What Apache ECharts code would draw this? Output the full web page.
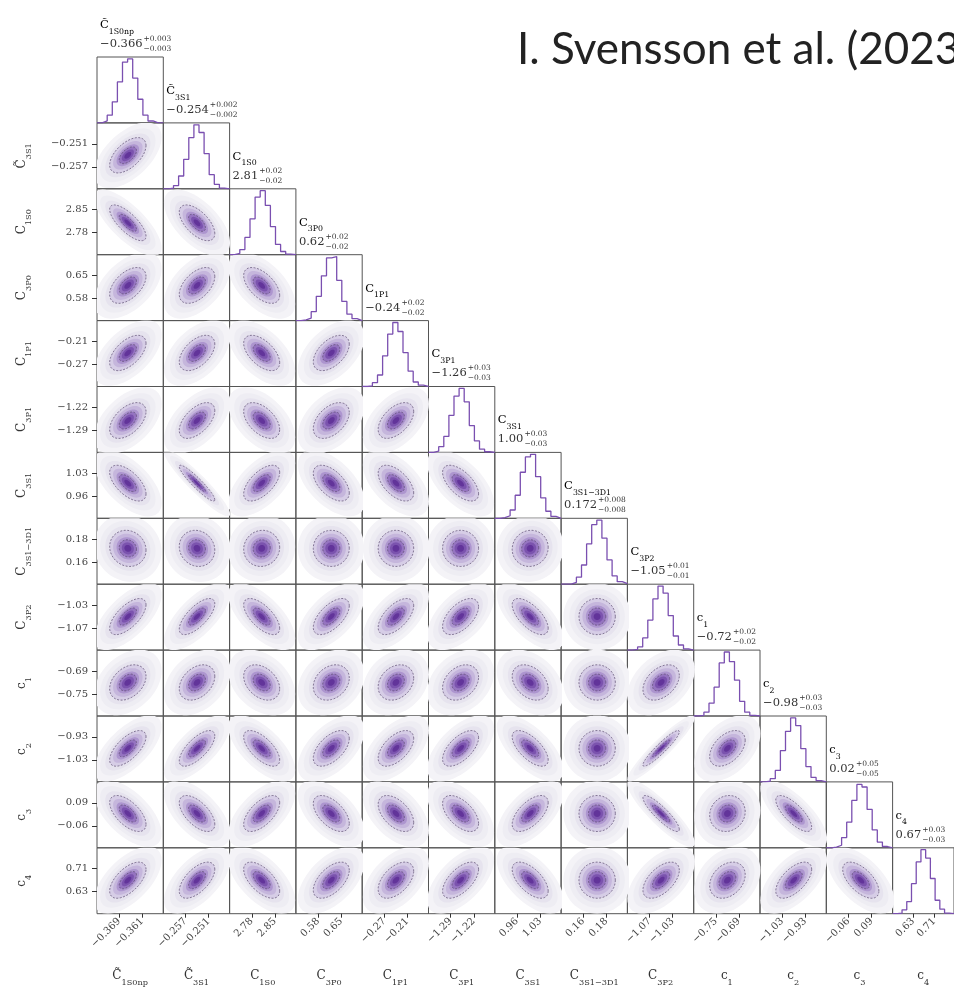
<!DOCTYPE html>
<html>
<head>
<meta charset="utf-8">
<script src="https://cdn.jsdelivr.net/npm/echarts@6/dist/echarts.min.js"></script>
<style>
  html, body { margin: 0; padding: 0; background: #fff; }
  #main { width: 954px; height: 995px; }
</style>
</head>
<body>
<div id="main"></div>
<script>
// parameter symbols and subscripts
const paramSym = ['C\u0303', 'C\u0303', 'C', 'C', 'C', 'C', 'C', 'C', 'C', 'c', 'c', 'c', 'c'];
const paramSub = ['1S0np', '3S1', '1S0', '3P0', '1P1', '3P1', '3S1', '3S1\u22123D1', '3P2', '1', '2', '3', '4'];

// medians and 1-sigma widths (titles over the diagonal)
const medians = [-0.366, -0.254, 2.81, 0.62, -0.24, -1.26, 1.00, 0.172, -1.05, -0.72, -0.98, 0.02, 0.67];
const sigmas  = [0.003, 0.0022, 0.026, 0.026, 0.022, 0.026, 0.026, 0.0075, 0.015, 0.022, 0.037, 0.056, 0.030];
const medianText = ['\u22120.366', '\u22120.254', '2.81', '0.62', '\u22120.24', '\u22121.26', '1.00', '0.172', '\u22121.05', '\u22120.72', '\u22120.98', '0.02', '0.67'];
const errText = ['0.003', '0.002', '0.02', '0.02', '0.02', '0.03', '0.03', '0.008', '0.01', '0.02', '0.03', '0.05', '0.03'];

// tick values and labels
const ticks = [
  [-0.369, -0.361], [-0.257, -0.251], [2.78, 2.85], [0.58, 0.65], [-0.27, -0.21],
  [-1.29, -1.22], [0.96, 1.03], [0.16, 0.18], [-1.07, -1.03], [-0.75, -0.69],
  [-1.03, -0.93], [-0.06, 0.09], [0.63, 0.71]
];
const tickText = [
  ['\u22120.369', '\u22120.361'], ['\u22120.257', '\u22120.251'], ['2.78', '2.85'], ['0.58', '0.65'],
  ['\u22120.27', '\u22120.21'], ['\u22121.29', '\u22121.22'], ['0.96', '1.03'], ['0.16', '0.18'],
  ['\u22121.07', '\u22121.03'], ['\u22120.75', '\u22120.69'], ['\u22121.03', '\u22120.93'],
  ['\u22120.06', '0.09'], ['0.63', '0.71']
];

// marginal histograms, 13 bins over each axis range (normalised)
const hists = [
  [0, 0.03, 0.12, 0.33, 0.64, 0.95, 1.0, 0.70, 0.37, 0.12, 0.03, 0, 0],
  [0, 0.01, 0.05, 0.20, 0.46, 0.80, 1.0, 0.88, 0.55, 0.22, 0.07, 0.01, 0],
  [0, 0.02, 0.08, 0.27, 0.56, 0.90, 1.0, 0.77, 0.44, 0.16, 0.05, 0.01, 0],
  [0, 0.01, 0.04, 0.14, 0.38, 0.70, 0.98, 1.0, 0.63, 0.30, 0.10, 0.03, 0],
  [0, 0.01, 0.06, 0.18, 0.48, 0.82, 1.0, 0.86, 0.53, 0.24, 0.07, 0.02, 0],
  [0, 0.02, 0.09, 0.25, 0.58, 0.88, 1.0, 0.79, 0.42, 0.18, 0.05, 0.01, 0],
  [0, 0.01, 0.04, 0.13, 0.36, 0.72, 0.96, 1.0, 0.65, 0.32, 0.11, 0.03, 0],
  [0, 0, 0.03, 0.11, 0.30, 0.63, 0.93, 1.0, 0.72, 0.38, 0.13, 0.04, 0.01],
  [0, 0.01, 0.05, 0.19, 0.47, 0.80, 1.0, 0.89, 0.54, 0.22, 0.08, 0.02, 0],
  [0, 0.01, 0.06, 0.20, 0.45, 0.83, 1.0, 0.85, 0.56, 0.23, 0.06, 0.01, 0],
  [0, 0.01, 0.05, 0.18, 0.49, 0.79, 1.0, 0.88, 0.52, 0.24, 0.07, 0.02, 0],
  [0, 0.01, 0.04, 0.16, 0.40, 0.74, 0.99, 0.95, 0.60, 0.28, 0.09, 0.02, 0],
  [0, 0.01, 0.06, 0.19, 0.47, 0.81, 1.0, 0.87, 0.55, 0.21, 0.07, 0.01, 0]
];

// pairwise correlations, lower triangle (row i, columns 0..i-1)
const corr = [
  [],
  [0.55],
  [-0.75, -0.6],
  [0.5, 0.5, -0.55],
  [0.55, 0.5, -0.55, 0.5],
  [0.5, 0.55, -0.5, 0.45, 0.5],
  [-0.6, -0.93, 0.6, -0.55, -0.55, -0.6],
  [-0.1, -0.1, 0.05, 0.0, 0.0, 0.0, 0.05],
  [0.65, 0.7, -0.65, 0.6, 0.6, 0.55, -0.65, 0.0],
  [0.35, 0.35, -0.35, 0.25, 0.25, 0.3, -0.35, 0.0, 0.4],
  [0.65, 0.7, -0.65, 0.55, 0.55, 0.6, -0.65, 0.0, 0.93, 0.45],
  [-0.6, -0.6, 0.6, -0.55, -0.5, -0.55, 0.6, 0.0, -0.88, 0.1, -0.75],
  [0.6, 0.6, -0.6, 0.55, 0.5, 0.6, -0.6, 0.0, 0.55, 0.3, 0.6, -0.6]
];

const N = 13;
const X0 = 97, CW = 66.3, Y0 = 57, CH = 65.9;
const SERIF = 'DejaVu Serif';
const NBINS = 13;

// density shading, outer to inner (Mahalanobis radius)
const levels = [
  { k: 3.9, fill: '#f4f3f7' },
  { k: 3.2, fill: '#eeedf3' },
  { k: 2.6, fill: '#e6e3ee' },
  { k: 2.1, fill: '#d6cde6', dash: true },
  { k: 1.7, fill: '#c5b6dc' },
  { k: 1.3, fill: '#ad95cf' },
  { k: 1.0, fill: '#9574c0', dash: true },
  { k: 0.7, fill: '#7b53ae' },
  { k: 0.4, fill: '#62349a' }
];

function axisRange(k) {
  const d = ticks[k][1] - ticks[k][0];
  return [ticks[k][0] - 0.96 * d, ticks[k][1] + 0.91 * d];
}

function richName(k) {
  return '{m|' + paramSym[k] + '}{s|' + paramSub[k] + '}';
}
function richStyle(size) {
  return {
    m: { fontSize: size, fontFamily: SERIF, color: '#333', lineHeight: size + 3, verticalAlign: 'top' },
    s: { fontSize: size * 0.68, fontFamily: SERIF, color: '#333', lineHeight: size * 0.7,
         padding: [size * 0.75, 0, 0, 0], verticalAlign: 'top' }
  };
}

function tickFormatter(k) {
  return function (v) {
    const i = Math.abs(v - ticks[k][0]) < Math.abs(v - ticks[k][1]) ? 0 : 1;
    return tickText[k][i];
  };
}

function renderBlob(params, api) {
  const mx = api.value(0), my = api.value(1), sx = api.value(2), sy = api.value(3), r = api.value(4);
  const q = Math.sqrt(1 - r * r);
  const children = levels.map(function (L) {
    const pts = [];
    for (let s = 0; s < 60; s++) {
      const t = s / 60 * 2 * Math.PI;
      const c = Math.cos(t), sn = Math.sin(t);
      pts.push(api.coord([mx + sx * L.k * c, my + sy * L.k * (r * c + q * sn)]));
    }
    return {
      type: 'polygon',
      shape: { points: pts },
      style: {
        fill: L.fill,
        stroke: L.dash ? '#5b4c70' : null,
        lineWidth: 0.7,
        lineDash: L.dash ? [2, 1.5] : null
      }
    };
  });
  return { type: 'group', children: children };
}

function histPoints(k) {
  const rg = axisRange(k);
  const w = (rg[1] - rg[0]) / NBINS;
  const h = hists[k];
  const pts = [[rg[0], 0]];
  for (let b = 0; b < NBINS; b++) pts.push([rg[0] + b * w, h[b]]);
  pts.push([rg[1], h[NBINS - 1]]);
  pts.push([rg[1], 0]);
  return pts;
}

const grids = [], xAxes = [], yAxes = [], series = [];
let g = 0;
for (let i = 0; i < N; i++) {
  for (let j = 0; j <= i; j++) {
    grids.push({
      left: X0 + j * CW, top: Y0 + i * CH, width: CW, height: CH,
      show: true, borderColor: '#555', borderWidth: 1, backgroundColor: 'transparent'
    });
    const bottom = i === N - 1;
    const xr = axisRange(j);
    xAxes.push({
      type: 'value', gridIndex: g, min: xr[0], max: xr[1],
      axisLine: { show: false }, splitLine: { show: false },
      axisTick: { show: bottom, customValues: ticks[j], length: 4, lineStyle: { color: '#333' } },
      axisLabel: {
        show: bottom, customValues: ticks[j], formatter: tickFormatter(j),
        rotate: 45, fontSize: 10, fontFamily: SERIF, color: '#444', margin: 6
      },
      name: bottom ? richName(j) : '',
      nameLocation: 'middle', nameGap: 56,
      nameTextStyle: { rich: richStyle(12) }
    });
    if (i === j) {
      yAxes.push({ type: 'value', gridIndex: g, min: 0, max: 1.03, show: false });
      series.push({
        type: 'line', xAxisIndex: g, yAxisIndex: g, step: 'end', symbol: 'none',
        data: histPoints(i), lineStyle: { color: '#7a4fb0', width: 1.3 },
        silent: true, animation: false
      });
    } else {
      const left = j === 0;
      const yr = axisRange(i);
      yAxes.push({
        type: 'value', gridIndex: g, min: yr[0], max: yr[1],
        axisLine: { show: false }, splitLine: { show: false },
        axisTick: { show: left, customValues: ticks[i], length: 5, lineStyle: { color: '#333' } },
        axisLabel: {
          show: left, customValues: ticks[i], formatter: tickFormatter(i),
          fontSize: 10, fontFamily: SERIF, color: '#444', margin: 9
        },
        name: left ? richName(i) : '',
        nameLocation: 'middle', nameGap: 66, nameRotate: 90,
        nameTextStyle: { rich: richStyle(12) }
      });
      series.push({
        type: 'custom', xAxisIndex: g, yAxisIndex: g, clip: true,
        renderItem: renderBlob, encode: { x: 0, y: 1 },
        data: [[medians[j], medians[i], sigmas[j], sigmas[i], corr[i][j]]],
        silent: true, animation: false
      });
    }
    g++;
  }
}

// titles above the diagonal panels
const measureCtx = document.createElement('canvas').getContext('2d');
function textWidth(t, font) { measureCtx.font = font; return measureCtx.measureText(t).width; }
const graphics = [];
for (let k = 0; k < N; k++) {
  const x = X0 + k * CW + 3;
  const top = Y0 + k * CH;
  graphics.push({
    type: 'text', x: x, y: top - 38, silent: true,
    style: { text: richName(k), rich: richStyle(11.5) }
  });
  const mainFont = '11.5px "' + SERIF + '"';
  const w = textWidth(medianText[k], mainFont);
  graphics.push({
    type: 'text', x: x, y: top - 13, silent: true,
    style: { text: medianText[k], font: mainFont, fill: '#333', verticalAlign: 'middle' }
  });
  graphics.push({
    type: 'text', x: x + w + 1, y: top - 18, silent: true,
    style: { text: '+' + errText[k], font: '7.5px "' + SERIF + '"', fill: '#333', verticalAlign: 'middle' }
  });
  graphics.push({
    type: 'text', x: x + w + 1, y: top - 8, silent: true,
    style: { text: '\u2212' + errText[k], font: '7.5px "' + SERIF + '"', fill: '#333', verticalAlign: 'middle' }
  });
}
graphics.push({
  type: 'text', x: 517, y: 28, silent: true,
  style: { text: 'I. Svensson et al. (2023)', font: '44px Lato', fill: '#222', verticalAlign: 'top' }
});

const chart = echarts.init(document.getElementById('main'), null, { renderer: 'canvas' });
chart.setOption({
  animation: false,
  grid: grids,
  xAxis: xAxes,
  yAxis: yAxes,
  series: series,
  graphic: graphics
});
</script>
</body>
</html>
